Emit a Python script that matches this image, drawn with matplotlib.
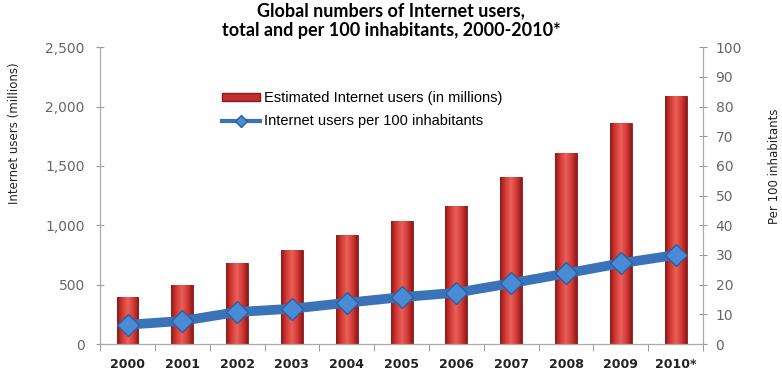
import numpy as np
import matplotlib.pyplot as plt
from matplotlib.colors import LinearSegmentedColormap
from matplotlib.lines import Line2D
from matplotlib.patches import Patch

# データ
years = ['2000', '2001', '2002', '2003', '2004', '2005',
         '2006', '2007', '2008', '2009', '2010*']
users_millions = [395, 500, 680, 790, 915, 1040, 1160, 1405, 1610, 1860, 2085]
per_100 = [6.5, 7.8, 10.8, 11.9, 13.9, 15.8, 17.3, 20.5, 23.8, 27.2, 30.0]

fig = plt.figure(figsize=(7.82, 3.74), dpi=100)
ax = fig.add_axes([0.128, 0.080, 0.771, 0.794])
ax2 = ax.twinx()

x = np.arange(len(years))
bars = ax.bar(x, users_millions, width=0.4, color='#C0302E',
              edgecolor='#8E1A18', linewidth=0.6, zorder=2)

# 棒にグラデーションをかける
cmap = LinearSegmentedColormap.from_list(
    'bar', ['#8E1A18', '#D63A36', '#E8605A', '#D63A36', '#8E1A18'])
grad = np.linspace(0, 1, 64).reshape(1, -1)
for b in bars:
    x0, y0 = b.get_x(), b.get_y()
    im = ax.imshow(grad, cmap=cmap, aspect='auto', zorder=2.5,
                   extent=[x0, x0 + b.get_width(), y0, y0 + b.get_height()])
    im.set_clip_path(b)

ax.set_xlim(-0.5, len(years) - 0.5)
ax.set_ylim(0, 2500)
ax.set_yticks(range(0, 2501, 500))
ax.set_yticklabels(['0', '500', '1,000', '1,500', '2,000', '2,500'])
ax.set_xticks(x)
ax.set_xticklabels(years, fontweight='bold')
ax.set_xticks(np.arange(-0.5, len(years), 1), minor=True)
ax.tick_params(axis='x', which='major', length=0, pad=10, labelsize=9,
               colors='#222222')
ax.tick_params(axis='x', which='minor', length=5, color='#888888')
ax.tick_params(axis='y', length=6, color='#999999', labelsize=10,
               labelcolor='#666666', direction='inout', pad=8)

ax2.plot(x, per_100, color='#3A73B9', linewidth=7, marker='D',
         markersize=11, markerfacecolor='#4A8BD6',
         markeredgecolor='#2D5F9E', zorder=3)
ax2.set_ylim(0, 100)
ax2.set_yticks(range(0, 101, 10))
ax2.tick_params(axis='y', length=6, color='#999999', labelsize=10,
                labelcolor='#666666', direction='inout', pad=6)

for a in (ax, ax2):
    a.spines['top'].set_visible(False)
    for s in ('left', 'right', 'bottom'):
        a.spines[s].set_color('#AAAAAA')
ax.set_zorder(ax2.get_zorder() - 1)
ax2.patch.set_visible(False)
ax.set_axisbelow(True)

# 軸ラベル
fig.text(15 / 782, 1 - 133 / 374, 'Internet users (millions)', fontsize=8.5,
         rotation=90, ha='center', va='center', color='#222222')
fig.text(774 / 782, 1 - 166 / 374, 'Per 100 inhabitants', fontsize=8.5,
         rotation=90, ha='center', va='center', color='#222222')

fig.text(0.5, 0.995,
         'Global numbers of Internet users,\ntotal and per 100 inhabitants, 2000-2010*',
         fontsize=13, fontweight='bold', family='Lato', ha='center', va='top',
         linespacing=1.25)

# 凡例
h_bar = Patch(facecolor='#C0302E', edgecolor='#8E1A18')
h_line = Line2D([], [], color='#3A73B9', linewidth=3, marker='D',
                markersize=6, markerfacecolor='#4A8BD6',
                markeredgecolor='#2D5F9E')
ax2.legend([h_bar, h_line],
           ['Estimated Internet users (in millions)',
            'Internet users per 100 inhabitants'],
           loc='upper left', bbox_to_anchor=(0.18, 0.895), frameon=False,
           handlelength=2.6, handleheight=0.5, labelspacing=0.6,
           handletextpad=0.3,
           prop={'family': 'Liberation Sans', 'size': 10.5})

plt.savefig('out.png', dpi=100)
